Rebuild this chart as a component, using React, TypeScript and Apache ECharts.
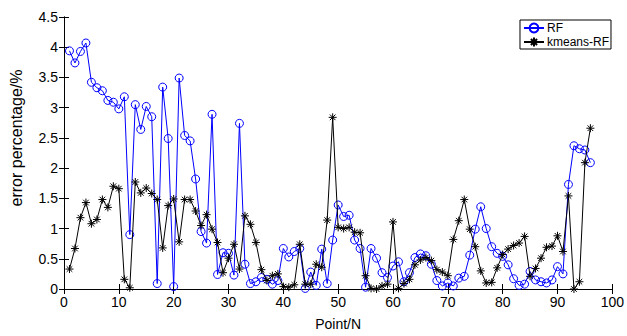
import React, { useEffect, useRef } from "react";
import * as echarts from "echarts";

const rfValues = [
  3.94, 3.74, 3.93, 4.07, 3.42, 3.33, 3.28, 3.12, 3.09, 2.98,
  3.18, 0.90, 3.05, 2.64, 3.02, 2.85, 0.09, 3.34, 2.49, 0.04,
  3.49, 2.54, 2.45, 1.82, 0.95, 0.76, 2.89, 0.24, 0.60, 0.59,
  0.23, 2.74, 0.41, 0.09, 0.12, 0.19, 0.16, 0.08, 0.14, 0.67,
  0.53, 0.62, 0.67, 0.01, 0.28, 0.06, 0.66, 0.09, 0.81, 1.39,
  1.20, 1.22, 0.81, 0.67, 0.03, 0.67, 0.51, 0.27, 0.19, 0.38,
  0.45, 0.12, 0.27, 0.52, 0.58, 0.55, 0.41, 0.14, 0.05, 0.10,
  0.05, 0.18, 0.21, 0.56, 0.99, 1.36, 1.00, 0.70, 0.59, 0.54,
  0.40, 0.17, 0.06, 0.08, 0.29, 0.15, 0.12, 0.10, 0.15, 0.37,
  0.25, 1.73, 2.37, 2.32, 2.30, 2.09,
];

const kmeansRfValues = [
  0.33, 0.67, 1.18, 1.43, 1.08, 1.15, 1.48, 1.35, 1.70, 1.66,
  0.16, 0.02, 1.77, 1.59, 1.67, 1.58, 1.48, 0.68, 1.38, 1.49,
  0.78, 1.48, 1.48, 1.29, 1.05, 1.23, 0.99, 0.77, 0.27, 0.51,
  0.74, 0.33, 1.21, 1.07, 0.77, 0.32, 0.14, 0.22, 0.25, 0.04,
  0.03, 0.07, 0.74, 0.08, 0.08, 0.41, 0.36, 1.14, 2.84, 1.02,
  1.00, 1.02, 0.94, 0.93, 0.22, 0.01, 0.00, 0.05, 0.08, 1.11,
  0.01, 0.09, 0.16, 0.40, 0.48, 0.52, 0.47, 0.32, 0.28, 0.22,
  0.82, 1.13, 1.48, 0.99, 0.70, 0.30, 0.10, 0.11, 0.35, 0.57,
  0.66, 0.72, 0.76, 0.87, 0.21, 0.34, 0.51, 0.69, 0.71, 0.88,
  0.62, 1.54, 0.00, 0.12, 2.09, 2.66,
];

const seriesNames = ["RF", "kmeans-RF"];
const xTitle = "Point/N";
const yTitle = "error percentage/%";

const FONT = "Liberation Sans, Arial, Helvetica, sans-serif";
const STAR = "path://M0,-10L0,10M-10,0L10,0M-7,-7L7,7M-7,7L7,-7";

export default function App() {
  const ref = useRef<HTMLDivElement>(null);

  useEffect(() => {
    if (!ref.current) return;
    const chart = echarts.init(ref.current, null, { renderer: "svg" });
    const rfData = rfValues.map((v, i) => [i + 1, v]);
    const kmData = kmeansRfValues.map((v, i) => [i + 1, v]);

    const tick = { show: true, inside: true, length: 5, lineStyle: { color: "#000", width: 1 } };
    const line = { show: true, lineStyle: { color: "#000", width: 1 } };

    chart.setOption({
      animation: false,
      backgroundColor: "#fff",
      textStyle: { fontFamily: FONT },
      grid: { left: 63, right: 14, top: 17, bottom: 46, containLabel: false },
      legend: {
        orient: "vertical",
        right: 16,
        top: 20,
        itemWidth: 20,
        itemHeight: 11,
        itemGap: 2,
        padding: [2, 2, 1, 3],
        borderColor: "#000",
        borderWidth: 1,
        borderRadius: 0,
        backgroundColor: "#fff",
        textStyle: { fontSize: 12, color: "#000", fontFamily: FONT, padding: [0, 0, 0, -2] },
        data: seriesNames,
      },
      xAxis: [
        {
          type: "value",
          min: 0,
          max: 100,
          interval: 10,
          position: "bottom",
          axisLine: line,
          axisTick: tick,
          splitLine: { show: false },
          axisLabel: { color: "#000", fontSize: 14, fontFamily: FONT, margin: 6 },
          name: xTitle,
          nameLocation: "middle",
          nameGap: 28,
          nameTextStyle: { color: "#000", fontSize: 14, fontFamily: FONT },
        },
        {
          type: "value",
          min: 0,
          max: 100,
          interval: 10,
          position: "top",
          axisLine: line,
          axisTick: tick,
          splitLine: { show: false },
          axisLabel: { show: false },
        },
      ],
      yAxis: [
        {
          type: "value",
          min: 0,
          max: 4.5,
          interval: 0.5,
          position: "left",
          axisLine: line,
          axisTick: tick,
          splitLine: { show: false },
          axisLabel: { color: "#000", fontSize: 14, fontFamily: FONT, margin: 6 },
          name: yTitle,
          nameLocation: "middle",
          nameGap: 40,
          nameTextStyle: { color: "#000", fontSize: 16, fontFamily: FONT, padding: [0, 0, 0, 30] },
        },
        {
          type: "value",
          min: 0,
          max: 4.5,
          interval: 0.5,
          position: "right",
          axisLine: line,
          axisTick: tick,
          splitLine: { show: false },
          axisLabel: { show: false },
        },
      ],
      series: [
        {
          name: seriesNames[0],
          type: "line",
          data: rfData,
          symbol: "circle",
          symbolSize: 8,
          showAllSymbol: true,
          lineStyle: { color: "#0000ff", width: 1 },
          itemStyle: { color: "rgba(0,0,0,0)", borderColor: "#0000ff", borderWidth: 1 },
          z: 2,
        },
        {
          name: seriesNames[1],
          type: "line",
          data: kmData,
          symbol: STAR,
          symbolSize: 8,
          showAllSymbol: true,
          lineStyle: { color: "#000", width: 1 },
          itemStyle: { color: "#000", borderColor: "#000", borderWidth: 1 },
          z: 3,
        },
      ],
    });
    return () => chart.dispose();
  }, []);

  return <div ref={ref} style={{ width: 627, height: 336, position: "absolute", left: 0, top: 0 }} />;
}
